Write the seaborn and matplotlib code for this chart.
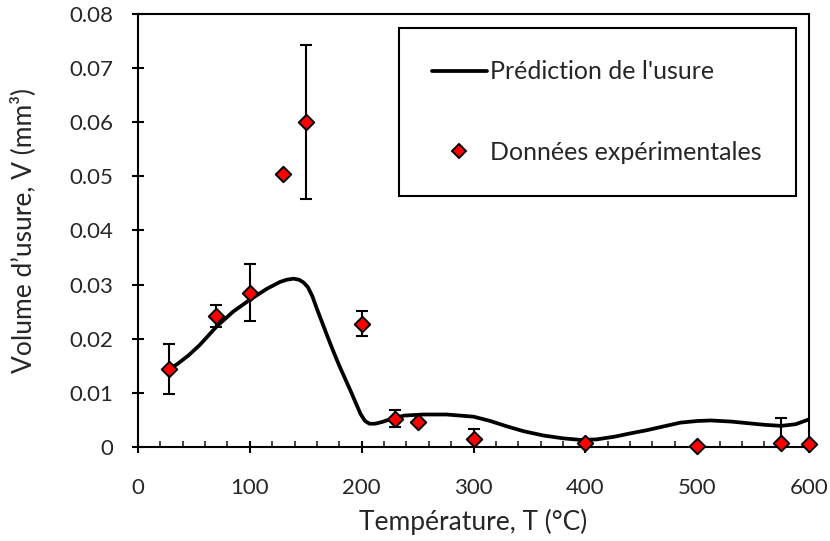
import numpy as np
import matplotlib
matplotlib.use("Agg")
import matplotlib.pyplot as plt
from matplotlib.lines import Line2D
import seaborn as sns

# Experimental data (temperature in degC, wear volume in mm3)
temp_exp = [28, 70, 100, 130, 150, 200, 230, 250, 300, 400, 500, 575, 600]
vol_exp = [0.0144, 0.0242, 0.0285, 0.0505, 0.0600, 0.0228, 0.0052, 0.0047,
           0.0014, 0.0008, 0.0002, 0.0008, 0.0005]
vol_err = [0.0046, 0.0020, 0.0053, 0.0, 0.0142, 0.0023, 0.0016, 0.0,
           0.0020, 0.0, 0.0, 0.0046, 0.0]

# Wear prediction curve
temp_pred = [28, 35, 45, 55, 70, 85, 100, 115, 127, 133, 139, 144, 148, 152,
             156, 160, 165, 170, 175, 180, 185, 190, 195, 199, 203, 207, 212,
             218, 228, 238, 255, 276, 300, 315, 330, 345, 363, 380, 396, 410,
             426, 440, 455, 470, 485, 500, 512, 530, 545, 560, 575, 588, 600]
vol_pred = [0.0144, 0.0153, 0.0169, 0.0188, 0.0222, 0.0250, 0.0272, 0.0292,
            0.0305, 0.0309, 0.0311, 0.0309, 0.0304, 0.0295, 0.0278, 0.0255,
            0.0228, 0.0201, 0.0175, 0.0150, 0.0127, 0.0104, 0.0080, 0.0061,
            0.0048, 0.0043, 0.0043, 0.0046, 0.0053, 0.0058, 0.0060, 0.0060,
            0.0056, 0.0048, 0.0038, 0.0029, 0.0021, 0.0016, 0.0013, 0.0014,
            0.0019, 0.0025, 0.0031, 0.0038, 0.0045, 0.0048, 0.0049, 0.0047,
            0.0044, 0.0041, 0.0039, 0.0042, 0.0051]

y_ticks = [0, 0.01, 0.02, 0.03, 0.04, 0.05, 0.06, 0.07, 0.08]
y_ticklabels = ['0', '0.01', '0.02', '0.03', '0.04', '0.05', '0.06', '0.07', '0.08']
x_ticks = [0, 100, 200, 300, 400, 500, 600]

sns.set_style("ticks")
plt.rcParams['font.family'] = ['Lato', 'DejaVu Sans']
text_color = '#262626'

fig = plt.figure(figsize=(8.3, 5.41), dpi=100)
ax = fig.add_axes([0.1663, 0.1738, 0.8084, 0.8003])

sns.lineplot(x=temp_pred, y=vol_pred, ax=ax, color='black', linewidth=2.7,
             sort=False, estimator=None)

t = np.array(temp_exp)
v = np.array(vol_exp)
e = np.array(vol_err)
has_err = e > 0
ax.errorbar(t[has_err], v[has_err], yerr=e[has_err], fmt='none', ecolor='black',
            elinewidth=1.5, capsize=4, capthick=1.5, zorder=3)
sns.scatterplot(x=temp_exp, y=vol_exp, ax=ax, marker='D', s=62, color='#ff0000',
                edgecolor='black', linewidth=1.4, zorder=4, clip_on=False)

ax.set_xlim(0, 600)
ax.set_ylim(0, 0.08)
ax.set_xticks(x_ticks)
ax.set_xticks(np.arange(0, 601, 20), minor=True)
ax.set_yticks(y_ticks)
ax.set_yticklabels(y_ticklabels)

for s in ax.spines.values():
    s.set_visible(True)
    s.set_linewidth(1.5)
    s.set_color('black')

ax.tick_params(axis='both', which='major', direction='inout', length=9, width=1.5,
               labelsize=16, color='black', labelcolor=text_color)
ax.tick_params(axis='x', which='major', pad=18)
ax.tick_params(axis='y', which='major', pad=13)
ax.tick_params(axis='x', which='minor', direction='in', length=4.5, width=1.2)
ax.tick_params(axis='y', which='minor', left=False)

ax.set_xlabel('Température, T (°C)', fontsize=19, color=text_color, labelpad=8)
ax.set_ylabel('Volume d’usure, V (mm³)', fontsize=19, color=text_color, labelpad=24)

handles = [Line2D([], [], color='black', linewidth=2.7),
           Line2D([], [], linestyle='none', marker='D', markersize=7.5,
                  markerfacecolor='#ff0000', markeredgecolor='black',
                  markeredgewidth=1.4)]
leg = ax.legend(handles, ["Prédiction de l'usure", 'Données expérimentales'],
                loc='upper left', bbox_to_anchor=(0.389, 0.594, 0.592, 0.374),
                mode='expand', fontsize=18, frameon=True, fancybox=False,
                borderpad=1.3, labelspacing=2.3, handlelength=2.2,
                handletextpad=0.15, borderaxespad=0)
for txt in leg.get_texts():
    txt.set_color(text_color)
leg.get_frame().set_edgecolor('black')
leg.get_frame().set_linewidth(1.5)
leg.get_frame().set_alpha(1)

fig.savefig('out.png', dpi=100)
